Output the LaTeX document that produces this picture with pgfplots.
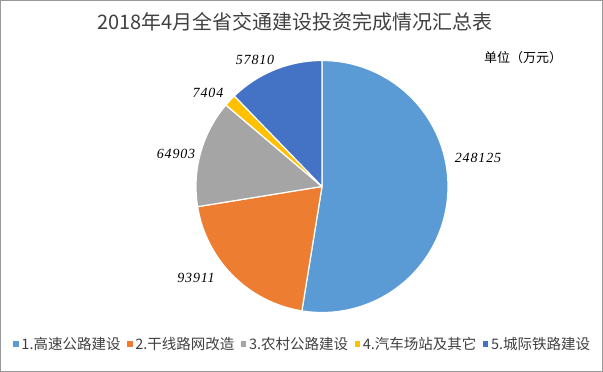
\documentclass[border=0pt]{standalone}
\usepackage{pgfplots}
\pgfplotsset{compat=1.18}
\usepackage{pgfplotstable}
\usepackage{fontspec}
\setmainfont{Liberation Serif}
\newfontfamily\cjk{Noto Sans CJK SC}
\newfontfamily\lblfont[LetterSpace=6]{Liberation Serif}

\definecolor{c1}{HTML}{5B9BD5}
\definecolor{c2}{HTML}{ED7D31}
\definecolor{c3}{HTML}{A5A5A5}
\definecolor{c4}{HTML}{FFC000}
\definecolor{c5}{HTML}{4472C4}
\definecolor{txt}{HTML}{404040}

\pgfplotstableread{
id value
1 248125
2 93911
3 64903
4 7404
5 57810
}\datatable
\pgfplotstablegetelem{0}{value}\of\datatable \edef\vA{\pgfplotsretval}
\pgfplotstablegetelem{1}{value}\of\datatable \edef\vB{\pgfplotsretval}
\pgfplotstablegetelem{2}{value}\of\datatable \edef\vC{\pgfplotsretval}
\pgfplotstablegetelem{3}{value}\of\datatable \edef\vD{\pgfplotsretval}
\pgfplotstablegetelem{4}{value}\of\datatable \edef\vE{\pgfplotsretval}
\edef\total{\fpeval{\vA+\vB+\vC+\vD+\vE}}
\edef\aA{90}
\edef\aB{\fpeval{\aA-360*\vA/\total}}
\edef\aC{\fpeval{\aB-360*\vB/\total}}
\edef\aD{\fpeval{\aC-360*\vC/\total}}
\edef\aE{\fpeval{\aD-360*\vD/\total}}
\edef\aF{\fpeval{\aE-360*\vE/\total}}

\def\cx{322}
\def\cy{185.5}
\def\rr{126}

\begin{document}
\begin{tikzpicture}
\begin{axis}[
  scale only axis, width=603pt, height=372pt,
  xmin=0, xmax=603, ymin=0, ymax=372,
  axis lines=none, clip=false,
  legend columns=5,
  legend style={draw=none, fill=none, at={(0.5008,0.0753)}, anchor=center,
    font=\cjk\fontsize{14.5}{17}\selectfont, text=txt,
    /tikz/every even column/.append style={column sep=4pt},
    nodes={inner sep=1.5pt}},
  legend image code/.code={\fill[#1] (0pt,-4pt) rectangle (6.5pt,3.5pt);},
]
\addplot[fill=c1, draw=white, line width=1.2pt, line join=round, domain=\aB:\aA, samples=150]
  ({\cx+\rr*cos(x)},{\cy+\rr*sin(x)}) -- (axis cs:\cx,\cy) -- cycle;
\addlegendentry{1.高速公路建设}
\addplot[fill=c2, draw=white, line width=1.2pt, line join=round, domain=\aC:\aB, samples=80]
  ({\cx+\rr*cos(x)},{\cy+\rr*sin(x)}) -- (axis cs:\cx,\cy) -- cycle;
\addlegendentry{2.干线路网改造}
\addplot[fill=c3, draw=white, line width=1.2pt, line join=round, domain=\aD:\aC, samples=60]
  ({\cx+\rr*cos(x)},{\cy+\rr*sin(x)}) -- (axis cs:\cx,\cy) -- cycle;
\addlegendentry{3.农村公路建设}
\addplot[fill=c4, draw=white, line width=1.2pt, line join=round, domain=\aE:\aD, samples=20]
  ({\cx+\rr*cos(x)},{\cy+\rr*sin(x)}) -- (axis cs:\cx,\cy) -- cycle;
\addlegendentry{4.汽车场站及其它}
\addplot[fill=c5, draw=white, line width=1.2pt, line join=round, domain=\aF:\aE, samples=60]
  ({\cx+\rr*cos(x)},{\cy+\rr*sin(x)}) -- (axis cs:\cx,\cy) -- cycle;
\addlegendentry{5.城际铁路建设}

% data labels
\node[font=\lblfont\itshape\fontsize{14}{16}\selectfont, text=black] at (axis cs:478,214) {\pgfplotstablegetelem{0}{value}\of\datatable\pgfplotsretval};
\node[font=\lblfont\itshape\fontsize{14}{16}\selectfont, text=black] at (axis cs:196,94) {\pgfplotstablegetelem{1}{value}\of\datatable\pgfplotsretval};
\node[font=\lblfont\itshape\fontsize{14}{16}\selectfont, text=black] at (axis cs:176,218) {\pgfplotstablegetelem{2}{value}\of\datatable\pgfplotsretval};
\node[font=\lblfont\itshape\fontsize{14}{16}\selectfont, text=black] at (axis cs:208,279) {\pgfplotstablegetelem{3}{value}\of\datatable\pgfplotsretval};
\node[font=\lblfont\itshape\fontsize{14}{16}\selectfont, text=black] at (axis cs:255,312) {\pgfplotstablegetelem{4}{value}\of\datatable\pgfplotsretval};

% title and unit
\node[font=\cjk\fontsize{20}{24}\selectfont, text=txt] at (axis cs:295,350) {2018年4月全省交通建设投资完成情况汇总表};
\node[font=\cjk\fontsize{13}{15}\selectfont, text=black] at (axis cs:523,314) {单位（万元）};

% border
\draw[black!40, line width=1pt] (axis cs:0.5,0.5) rectangle (axis cs:602.5,371.5);
\end{axis}
\end{tikzpicture}
\end{document}
